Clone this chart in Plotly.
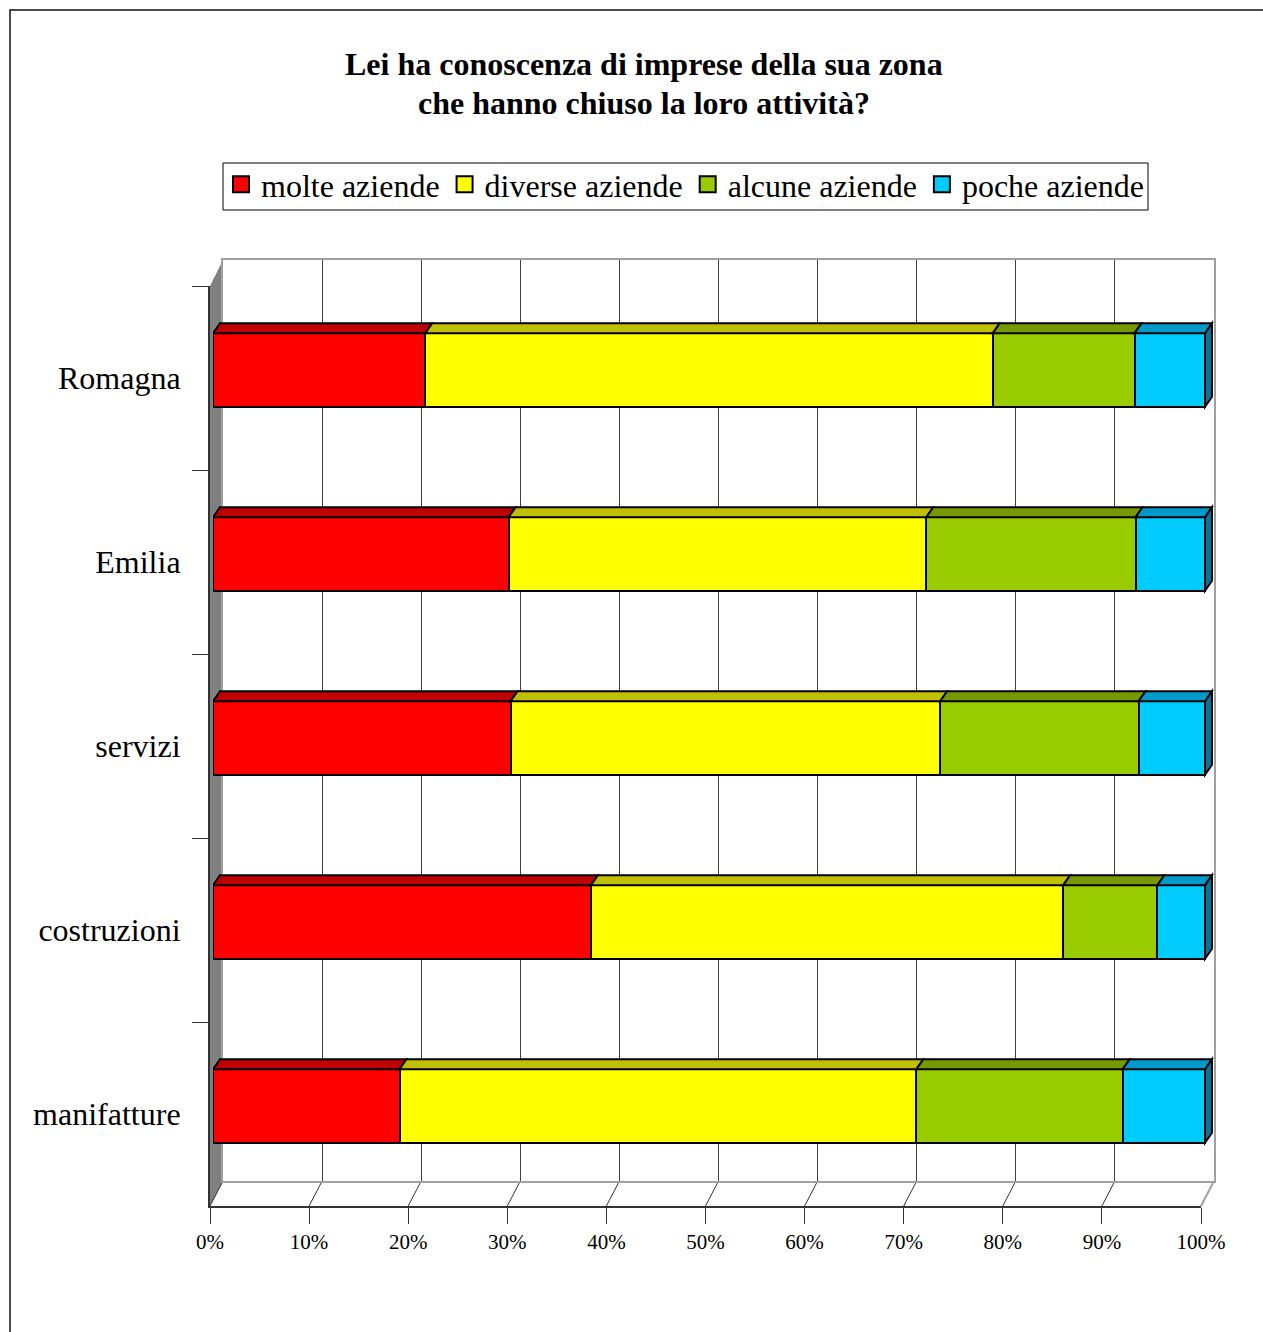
import plotly.graph_objects as go

# ---- data -------------------------------------------------------------
categories = ["Romagna", "Emilia", "servizi", "costruzioni", "manifatture"]
series_names = ["molte aziende", "diverse aziende", "alcune aziende", "poche aziende"]
molte = [21.4, 29.8, 30.0, 38.1, 18.8]
diverse = [57.2, 42.1, 43.3, 47.6, 52.1]
alcune = [14.3, 21.1, 20.0, 9.5, 20.8]
poche = [7.1, 7.0, 6.7, 4.8, 8.3]
tick_values = [0, 10, 20, 30, 40, 50, 60, 70, 80, 90, 100]
tick_labels = ["0%", "10%", "20%", "30%", "40%", "50%", "60%", "70%", "80%", "90%", "100%"]

series_values = [molte, diverse, alcune, poche]
front_colors = ["#FF0000", "#FFFF00", "#99CC00", "#00CCFF"]
top_colors = ["#BE0000", "#C0C000", "#779900", "#0099CC"]
side_color = "#007799"

FONT = "Liberation Serif, Times New Roman, serif"
W, H = 1263, 1332


def fx(px):
    return px / W


def fy(py):
    return 1 - py / H


# geometry of the pseudo-3D frame (pixels)
FRONT_L, FRONT_R, FRONT_B, FRONT_T = 210, 1201, 1206, 286
BACK_L, BACK_R, BACK_B, BACK_T = 223, 1214, 1181, 260
BAR_L, BAR_R = 213, 1205
BAR_AX_R = 1215
BAR_SHIFT = 8            # bars sit slightly higher than the category bands
DEPTH_DX, DEPTH_DY = 7, 10
BAR_WIDTH = 0.4
LEGEND_BOX = (223, 163, 1148, 210)

bar_px_per_unit = (BAR_R - BAR_L) / 100.0
bar_range_max = (BAR_AX_R - BAR_L) / bar_px_per_unit
band_px = (FRONT_B - FRONT_T) / len(categories)
dx_units = DEPTH_DX / bar_px_per_unit
dy_units = DEPTH_DY / band_px

fig = go.Figure()

# invisible point so the back-wall subplot gets drawn
fig.add_trace(go.Scatter(
    x=[0], y=[0], xaxis="x", yaxis="y", mode="markers",
    marker=dict(opacity=0), showlegend=False, hoverinfo="skip",
))

# stacked bars (front faces)
ypos = list(range(len(categories)))
for name, vals, col in zip(series_names, series_values, front_colors):
    fig.add_trace(go.Bar(
        y=ypos, x=vals, orientation="h", xaxis="x2", yaxis="y2",
        width=BAR_WIDTH, marker=dict(color=col, line=dict(color="black", width=2)),
        name=name, showlegend=False, hoverinfo="x+name",
    ))

# legend entries with larger square swatches
for name, col in zip(series_names, front_colors):
    fig.add_trace(go.Scatter(
        x=[None], y=[None], mode="markers", xaxis="x2", yaxis="y2", name=name,
        marker=dict(symbol="square", size=20, color=col, line=dict(color="black", width=2)),
    ))

# invisible trace registering the categories on the front axis
fig.add_trace(go.Scatter(
    x=[0] * len(categories), y=categories, xaxis="x3", yaxis="y3", mode="markers",
    marker=dict(opacity=0), showlegend=False, hoverinfo="skip",
))

shapes = []

# side wall on the left
shapes.append(dict(
    type="path", xref="paper", yref="paper", layer="below",
    path=f"M {fx(FRONT_L)},{fy(FRONT_B)} L {fx(FRONT_L)},{fy(FRONT_T)} "
         f"L {fx(BACK_L)},{fy(BACK_T)} L {fx(BACK_L)},{fy(BACK_B)} Z",
    fillcolor="#808080", line=dict(width=0),
))

# floor: receding lines at each tick
front_step = (FRONT_R - FRONT_L) / 100.0
back_step = (BACK_R - BACK_L) / 100.0
for v in tick_values:
    x_front = FRONT_L + v * front_step
    x_back = BACK_L + v * back_step
    is_edge = v == tick_values[-1]
    shapes.append(dict(
        type="line", xref="paper", yref="paper", layer="below",
        x0=fx(x_front), y0=fy(FRONT_B), x1=fx(x_back), y1=fy(BACK_B),
        line=dict(color="#A0A0A0" if is_edge else "#333333", width=2 if is_edge else 1),
    ))

# top and side faces of the bars
for i in range(len(categories)):
    start = 0.0
    y_front = i - BAR_WIDTH / 2
    y_back = y_front - dy_units
    for s, vals in enumerate(series_values):
        end = start + vals[i]
        shapes.append(dict(
            type="path", xref="x2", yref="y2", layer="above",
            path=f"M {start},{y_front} L {end},{y_front} L {end + dx_units},{y_back} "
                 f"L {start + dx_units},{y_back} Z",
            fillcolor=top_colors[s], line=dict(color="black", width=2),
        ))
        start = end
    y_bottom = i + BAR_WIDTH / 2
    shapes.append(dict(
        type="path", xref="x2", yref="y2", layer="above",
        path=f"M {start},{y_front} L {start + dx_units},{y_back} "
             f"L {start + dx_units},{y_bottom - dy_units} L {start},{y_bottom} Z",
        fillcolor=side_color, line=dict(color="black", width=2),
    ))

# legend frame
lx0, ly0, lx1, ly1 = LEGEND_BOX
shapes.append(dict(
    type="rect", xref="paper", yref="paper", layer="below",
    x0=fx(lx0), y0=fy(ly0), x1=fx(lx1), y1=fy(ly1),
    line=dict(color="black", width=1), fillcolor="white",
))

# outer frame
shapes.append(dict(
    type="rect", xref="paper", yref="paper", layer="above",
    x0=fx(10), y0=fy(10), x1=1.05, y1=-0.05,
    line=dict(color="#111111", width=1.5), fillcolor="rgba(0,0,0,0)",
))

title_lines = ["Lei ha conoscenza di imprese della sua zona",
               "che hanno chiuso la loro attività?"]
annotations = []
for line, ypx in zip(title_lines, [64, 103]):
    annotations.append(dict(
        text=f"<b>{line}</b>", x=fx(643.5), y=fy(ypx), xref="paper", yref="paper",
        xanchor="center", yanchor="middle", showarrow=False,
        font=dict(family=FONT, size=32, color="black"),
    ))

fig.update_layout(
    template="none",
    width=W, height=H, margin=dict(l=0, r=0, t=0, b=0, pad=0), autosize=False,
    paper_bgcolor="white", plot_bgcolor="rgba(0,0,0,0)",
    barmode="stack", bargap=0,
    font=dict(family=FONT, color="black"),
    shapes=shapes, annotations=annotations,
    showlegend=True,
    legend=dict(
        orientation="h", x=fx(lx0 - 2), y=fy(ly0 - 6), xanchor="left", yanchor="top",
        borderwidth=0, bgcolor="rgba(0,0,0,0)",
        font=dict(family=FONT, size=32, color="black"), itemwidth=30,
        traceorder="normal",
    ),
    # back wall with gridlines
    xaxis=dict(
        domain=[fx(BACK_L), fx(BACK_R)], range=[0, 100], anchor="y",
        showgrid=True, gridcolor="#404040", gridwidth=1, tick0=0, dtick=10,
        showticklabels=False, ticks="", zeroline=False, automargin=False,
        showline=True, mirror=True, linecolor="#A0A0A0", linewidth=2, fixedrange=True,
    ),
    yaxis=dict(
        domain=[fy(BACK_B), fy(BACK_T)], range=[0, 1], anchor="x",
        showgrid=False, showticklabels=False, ticks="", zeroline=False, automargin=False,
        showline=True, mirror=True, linecolor="#A0A0A0", linewidth=2, fixedrange=True,
    ),
    # bar axes
    xaxis2=dict(
        domain=[fx(BAR_L), fx(BAR_AX_R)], range=[0, bar_range_max], anchor="y2",
        visible=False, fixedrange=True, automargin=False,
    ),
    yaxis2=dict(
        domain=[fy(FRONT_B - BAR_SHIFT), fy(FRONT_T - BAR_SHIFT)],
        range=[len(categories) - 0.5, -0.5], anchor="x2", visible=False,
        fixedrange=True, automargin=False,
    ),
    # front axes with labels
    xaxis3=dict(
        domain=[fx(FRONT_L), fx(FRONT_R)], range=[0, 100], anchor="y3",
        tickvals=tick_values, ticktext=tick_labels, ticks="outside", ticklen=16,
        tickcolor="#333333", tickwidth=1, showline=True, linecolor="#333333", linewidth=2,
        showgrid=False, zeroline=False, tickfont=dict(family=FONT, size=21, color="black"),
        fixedrange=True, automargin=False,
    ),
    yaxis3=dict(
        domain=[fy(FRONT_B), fy(FRONT_T)], type="category",
        categoryorder="array", categoryarray=categories,
        range=[len(categories) - 0.5, -0.5], anchor="x3",
        tickson="boundaries", ticks="outside", ticklen=16, tickcolor="#333333", tickwidth=1,
        showline=True, linecolor="#333333", linewidth=2, showgrid=False, zeroline=False,
        tickfont=dict(family=FONT, size=32, color="black"), ticklabelstandoff=21,
        fixedrange=True, automargin=False,
    ),
)

fig.write_html("out.html")
